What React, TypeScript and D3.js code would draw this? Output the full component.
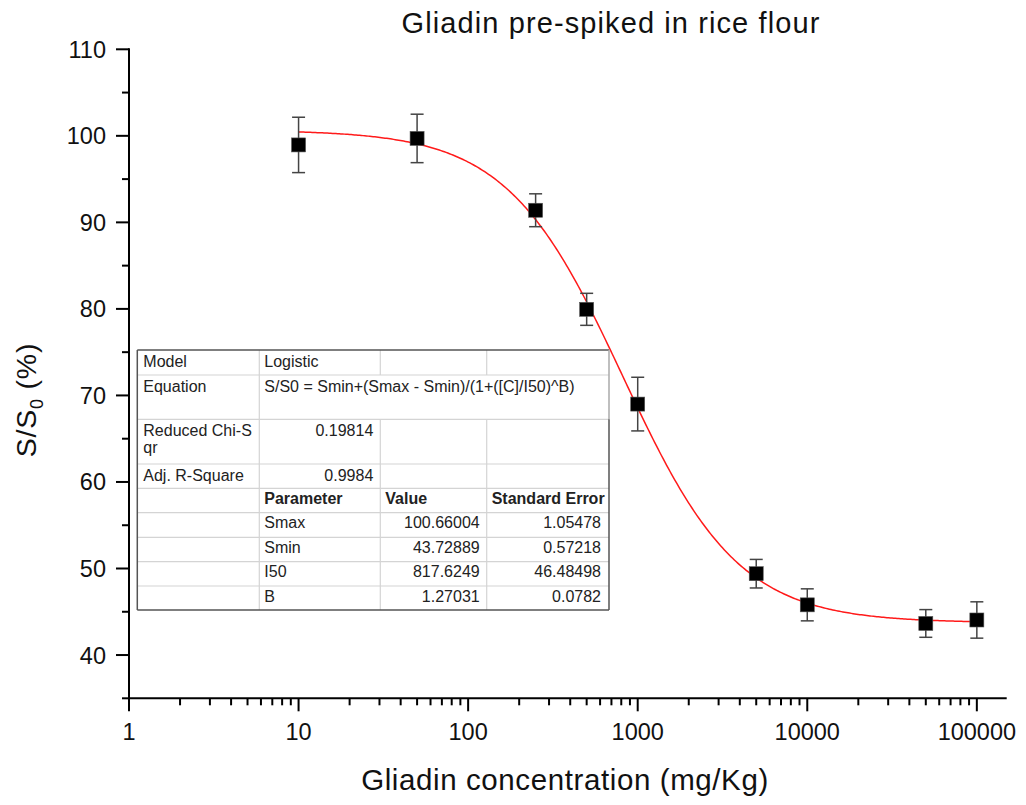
import React from "react";
import * as d3 from "d3";

// ---- data ----
const CONC = [10, 50, 250, 500, 1000, 5000, 10000, 50000, 100000];
const RESPONSE = [98.95, 99.7, 91.4, 79.95, 69.0, 49.4, 45.8, 43.65, 44.05];
const ERRORS = [3.2, 2.8, 1.9, 1.85, 3.1, 1.65, 1.85, 1.6, 2.1];

const X_MAJOR = [1, 10, 100, 1000, 10000, 100000];
const Y_MAJOR = [40, 50, 60, 70, 80, 90, 100, 110];
const Y_MINOR = [35, 45, 55, 65, 75, 85, 95, 105];

const MODEL_LABELS = ["Model", "Equation", "Reduced Chi-Sqr", "Adj. R-Square"];
const MODEL_VALUES = ["Logistic", "S/S0 = Smin+(Smax - Smin)/(1+([C]/I50)^B)", "0.19814", "0.9984"];
const PARAM_HEADERS = ["Parameter", "Value", "Standard Error"];
const PARAM_NAMES = ["Smax", "Smin", "I50", "B"];
const PARAM_VALUES = [100.66004, 43.72889, 817.6249, 1.27031];
const PARAM_ERRORS = [1.05478, 0.57218, 46.48498, 0.0782];

const FONT = "'Liberation Sans', Arial, sans-serif";

export default function App() {
  const W = 1026, H = 805;
  const x = d3.scaleLog().domain([1, 150000]).range([129, 1006.7]);
  const y = d3.scaleLinear().domain([35, 110]).range([698.3, 49.3]);
  const x0 = x.range()[0];
  const y0 = y.range()[0];

  const xMinor: number[] = [];
  X_MAJOR.slice(0, -1).forEach((d) => {
    for (let k = 2; k <= 9; k++) xMinor.push(d * k);
  });

  const [Smax, Smin, I50, B] = PARAM_VALUES;
  const fit = (c: number) => Smin + (Smax - Smin) / (1 + Math.pow(c / I50, B));
  const curvePts = d3.range(1, 5.0001, 0.01).map((e) => [Math.pow(10, e), fit(Math.pow(10, e))] as [number, number]);
  const line = d3.line<[number, number]>().x((d) => x(d[0])).y((d) => y(d[1])).curve(d3.curveLinear);

  // table layout
  const colX = [137.3, 259.3, 380.3, 486.7, 609];
  const rowY = [350, 375, 419.3, 464, 488.3, 512.7, 537.3, 561.7, 586, 610];
  const tfs = 16;
  const inner = "#d4d4d4";
  const outer = "#555";

  const cells: React.ReactNode[] = [];
  MODEL_LABELS.forEach((label, i) => {
    const top = rowY[i];
    if (label === "Reduced Chi-Sqr") {
      cells.push(<text key={"ml" + i} x={colX[0] + 6} y={top + 16.5}>Reduced Chi-S</text>);
      cells.push(<text key={"ml2" + i} x={colX[0] + 6} y={top + 34}>qr</text>);
    } else {
      cells.push(<text key={"ml" + i} x={colX[0] + 6} y={top + 16.5}>{label}</text>);
    }
    const isNum = i >= 2;
    cells.push(
      <text key={"mv" + i} x={isNum ? colX[2] - 7 : colX[1] + 5} y={top + 16.5} textAnchor={isNum ? "end" : "start"}>
        {MODEL_VALUES[i]}
      </text>
    );
  });
  PARAM_HEADERS.forEach((h, j) => {
    cells.push(
      <text key={"ph" + j} x={colX[j + 1] + 5} y={rowY[4] + 15.5} fontWeight="bold">{h}</text>
    );
  });
  PARAM_NAMES.forEach((n, i) => {
    const top = rowY[5 + i];
    cells.push(<text key={"pn" + i} x={colX[1] + 5} y={top + 15.5}>{n}</text>);
    cells.push(<text key={"pv" + i} x={colX[3] - 7} y={top + 15.5} textAnchor="end">{String(PARAM_VALUES[i])}</text>);
    cells.push(<text key={"pe" + i} x={colX[4] - 8} y={top + 15.5} textAnchor="end">{String(PARAM_ERRORS[i])}</text>);
  });

  const hLines = rowY.slice(1, -1).map((yy, i) => (
    <line key={"h" + i} x1={colX[0]} x2={colX[4]} y1={yy} y2={yy} stroke={inner} strokeWidth={1.2} />
  ));
  const vLines: React.ReactNode[] = [];
  [1, 2, 3].forEach((c) => {
    for (let r = 0; r < rowY.length - 1; r++) {
      if (r === 1 && c > 1) continue; // equation spans
      vLines.push(
        <line key={"v" + c + "-" + r} x1={colX[c]} x2={colX[c]} y1={rowY[r]} y2={rowY[r + 1]} stroke={inner} strokeWidth={1.2} />
      );
    }
  });

  return (
    <svg width={W} height={H} style={{ position: "absolute", left: 0, top: 0, background: "#fff" }} fontFamily={FONT}>
      <rect x={0} y={0} width={W} height={H} fill="#fff" />
      {/* title */}
      <text x={611} y={33} textAnchor="middle" fontSize={29} letterSpacing={1.1} fill="#111">Gliadin pre-spiked in rice flour</text>

      {/* fit curve */}
      <path d={line(curvePts) || ""} fill="none" stroke="#ff1a1a" strokeWidth={1.5} />

      {/* table */}
      <g fontSize={tfs} fill="#222">
        <rect x={colX[0]} y={rowY[0]} width={colX[4] - colX[0]} height={rowY[rowY.length - 1] - rowY[0]} fill="#fff" stroke="none" />
        {hLines}
        {vLines}
        <line x1={colX[0]} x2={colX[4]} y1={rowY[0]} y2={rowY[0]} stroke={outer} strokeWidth={1.5} />
        <line x1={colX[0]} x2={colX[4]} y1={rowY[9]} y2={rowY[9]} stroke={outer} strokeWidth={1.5} />
        <line x1={colX[0]} x2={colX[0]} y1={rowY[0]} y2={rowY[9]} stroke={outer} strokeWidth={1.5} />
        <line x1={colX[4]} x2={colX[4]} y1={rowY[0]} y2={rowY[2]} stroke="#aaa" strokeWidth={1.5} />
        <line x1={colX[4]} x2={colX[4]} y1={rowY[2]} y2={rowY[9]} stroke={outer} strokeWidth={1.5} />
        {cells}
      </g>

      {/* error bars and markers */}
      {CONC.map((c, i) => {
        const cx = x(c);
        const yt = y(RESPONSE[i] + ERRORS[i]);
        const yb = y(RESPONSE[i] - ERRORS[i]);
        return (
          <g key={"e" + i} stroke="#444" strokeWidth={1.5}>
            <line x1={cx} x2={cx} y1={yt} y2={yb} />
            <line x1={cx - 6.5} x2={cx + 6.5} y1={yt} y2={yt} />
            <line x1={cx - 6.5} x2={cx + 6.5} y1={yb} y2={yb} />
          </g>
        );
      })}
      {CONC.map((c, i) => (
        <rect key={"m" + i} x={x(c) - 7} y={y(RESPONSE[i]) - 7} width={14} height={14} fill="#000" stroke="#555" strokeWidth={0.6} />
      ))}

      {/* axes */}
      <g stroke="#000" strokeWidth={2}>
        <line x1={x0} x2={x0} y1={y(110) - 1} y2={y0 + 1} />
        <line x1={x0 - 1} x2={x.range()[1]} y1={y0} y2={y0} />
        {Y_MAJOR.map((v) => (
          <line key={"ym" + v} x1={x0 - 13} x2={x0} y1={y(v)} y2={y(v)} />
        ))}
        {Y_MINOR.map((v) => (
          <line key={"yn" + v} x1={x0 - 7} x2={x0} y1={y(v)} y2={y(v)} />
        ))}
        {X_MAJOR.map((v) => (
          <line key={"xm" + v} x1={x(v)} x2={x(v)} y1={y0} y2={y0 + 13} />
        ))}
        {xMinor.map((v) => (
          <line key={"xn" + v} x1={x(v)} x2={x(v)} y1={y0} y2={y0 + 7} />
        ))}
      </g>
      <g fontSize={23.5} fill="#111">
        {Y_MAJOR.map((v) => (
          <text key={"yl" + v} x={x0 - 23} y={y(v) + 8.5} textAnchor="end">{v}</text>
        ))}
        {X_MAJOR.map((v) => (
          <text key={"xl" + v} x={x(v)} y={739.5} textAnchor="middle">{v}</text>
        ))}
      </g>
      <text x={565} y={790} textAnchor="middle" fontSize={29.5} letterSpacing={0.6} fill="#111">Gliadin concentration (mg/Kg)</text>
      <text transform="translate(36,400) rotate(-90)" textAnchor="middle" fontSize={28.5} letterSpacing={0.8} fill="#111">
        S/S<tspan fontSize={18} dy={7}>0</tspan><tspan dy={-7}> (%)</tspan>
      </text>
    </svg>
  );
}
